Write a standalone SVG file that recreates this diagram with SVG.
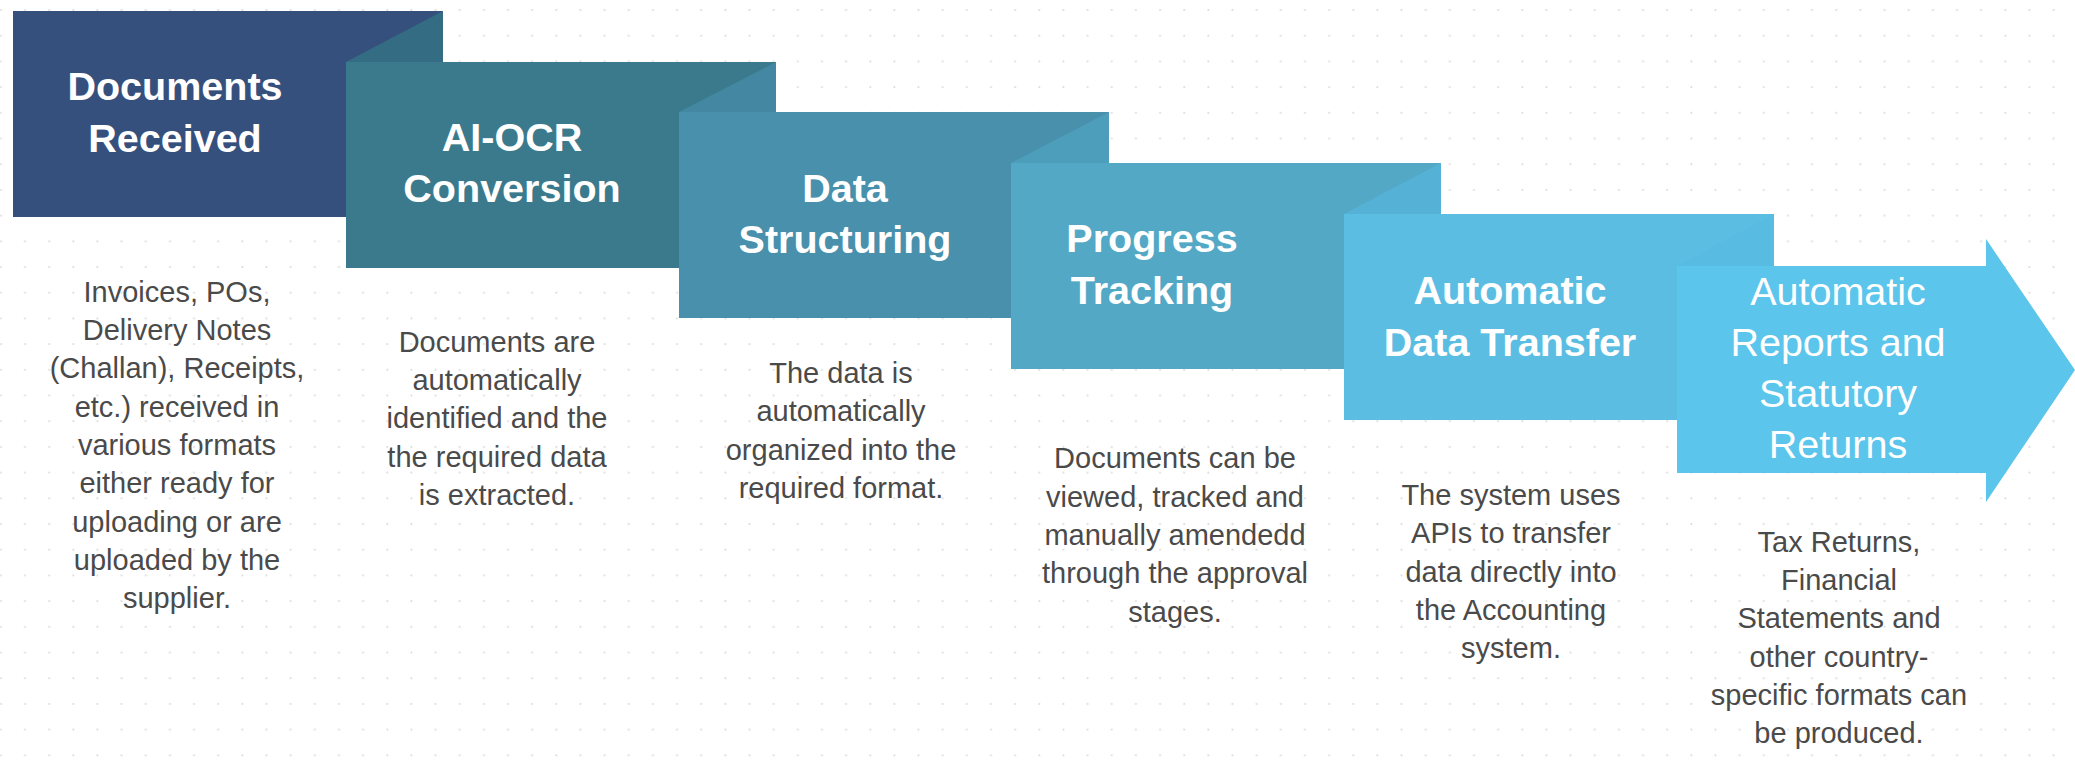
<svg xmlns="http://www.w3.org/2000/svg" width="2075" height="762" viewBox="0 0 2075 762">
<defs>
<pattern id="dots" x="12.1" y="-2.85" width="24.15" height="25.7" patternUnits="userSpaceOnUse">
<circle cx="12.9" cy="12.85" r="1.1" fill="#dcdcdc"/>
</pattern>
<style>
.title{font-family:"Liberation Sans",Arial,sans-serif;font-weight:bold;font-size:39.5px;fill:#ffffff;text-anchor:middle}
.title2{font-family:"Liberation Sans",Arial,sans-serif;font-weight:normal;font-size:39.5px;fill:#ffffff;text-anchor:middle}
.desc{font-family:"Liberation Sans",Arial,sans-serif;font-size:29px;fill:#4a4a4a;text-anchor:middle}
</style>
</defs>
<rect x="0" y="0" width="2075" height="762" fill="#ffffff"/>
<rect x="0" y="0" width="2075" height="762" fill="url(#dots)"/>

<g id="step1">
<rect x="13" y="11" width="430" height="206" fill="#36507d"/>
<text class="title" x="175" y="100">Documents</text>
<text class="title" x="175" y="151.5">Received</text>
<g class="desc-g">
<text class="desc" x="177" y="301.7">Invoices, POs,</text>
<text class="desc" x="177" y="340">Delivery Notes</text>
<text class="desc" x="177" y="378.3">(Challan), Receipts,</text>
<text class="desc" x="177" y="416.6">etc.) received in</text>
<text class="desc" x="177" y="454.9">various formats</text>
<text class="desc" x="177" y="493.2">either ready for</text>
<text class="desc" x="177" y="531.5">uploading or are</text>
<text class="desc" x="177" y="569.8">uploaded by the</text>
<text class="desc" x="177" y="608.1">supplier.</text>
</g>
</g>

<g id="step2">
<polygon points="346,62 443,11 443,62" fill="#346d83"/>
<rect x="346" y="62" width="430" height="206" fill="#3b7a8c"/>
<text class="title" x="512" y="150.8">AI-OCR</text>
<text class="title" x="512" y="202.3">Conversion</text>
<text class="desc" x="497" y="351.7">Documents are</text>
<text class="desc" x="497" y="390">automatically</text>
<text class="desc" x="497" y="428.3">identified and the</text>
<text class="desc" x="497" y="466.6">the required data</text>
<text class="desc" x="497" y="504.9">is extracted.</text>
</g>

<g id="step3">
<polygon points="679,112 776,62 776,112" fill="#4387a2"/>
<rect x="679" y="112" width="430" height="206" fill="#4990ac"/>
<text class="title" x="845" y="201.6">Data</text>
<text class="title" x="845" y="253.1">Structuring</text>
<text class="desc" x="841" y="383">The data is</text>
<text class="desc" x="841" y="421.3">automatically</text>
<text class="desc" x="841" y="459.6">organized into the</text>
<text class="desc" x="841" y="497.9">required format.</text>
</g>

<g id="step4">
<polygon points="1011,163 1109,112 1109,163" fill="#4d9eba"/>
<rect x="1011" y="163" width="430" height="206" fill="#53a8c6"/>
<text class="title" x="1152" y="252.4">Progress</text>
<text class="title" x="1152" y="303.9">Tracking</text>
<text class="desc" x="1175" y="468.3">Documents can be</text>
<text class="desc" x="1175" y="506.6">viewed, tracked and</text>
<text class="desc" x="1175" y="544.9">manually amendedd</text>
<text class="desc" x="1175" y="583.2">through the approval</text>
<text class="desc" x="1175" y="621.5">stages.</text>
</g>

<g id="step5">
<polygon points="1344,214 1441,163 1441,214" fill="#55b2d6"/>
<rect x="1344" y="214" width="430" height="206" fill="#5bbde2"/>
<text class="title" x="1510" y="304">Automatic</text>
<text class="title" x="1510" y="355.5">Data Transfer</text>
<text class="desc" x="1511" y="505">The system uses</text>
<text class="desc" x="1511" y="543.3">APIs to transfer</text>
<text class="desc" x="1511" y="581.6">data directly into</text>
<text class="desc" x="1511" y="619.9">the Accounting</text>
<text class="desc" x="1511" y="658.2">system.</text>
</g>

<g id="step6">
<polygon points="1677,266 1774,214 1774,266" fill="#58bce2"/>
<polygon points="1677,266 1986,266 1986,239 2075,370 1986,502 1986,473 1677,473" fill="#5cc5ec"/>
<text class="title2" x="1838" y="305">Automatic</text>
<text class="title2" x="1838" y="356">Reports and</text>
<text class="title2" x="1838" y="407">Statutory</text>
<text class="title2" x="1838" y="458">Returns</text>
<text class="desc" x="1839" y="551.7">Tax Returns,</text>
<text class="desc" x="1839" y="590">Financial</text>
<text class="desc" x="1839" y="628.3">Statements and</text>
<text class="desc" x="1839" y="666.6">other country-</text>
<text class="desc" x="1839" y="704.9">specific formats can</text>
<text class="desc" x="1839" y="743.2">be produced.</text>
</g>

<g id="connectors"></g>
</svg>
